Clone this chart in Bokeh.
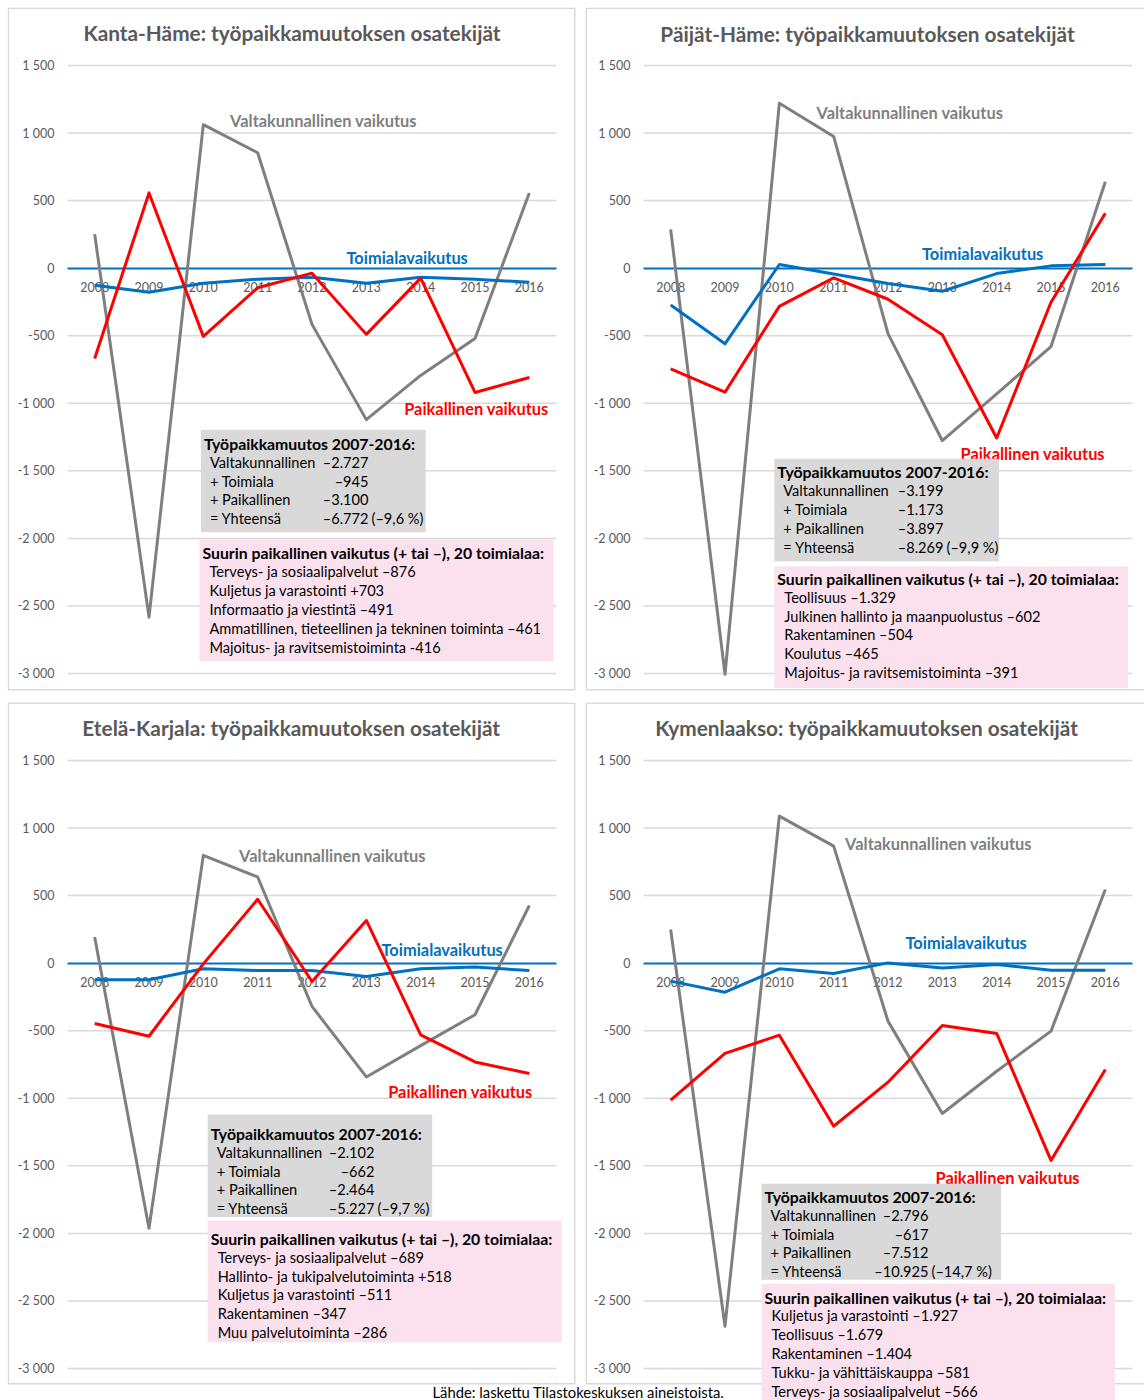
from bokeh.plotting import figure
from bokeh.models import Range1d, FixedTicker, Label, BoxAnnotation, GlobalInlineStyleSheet
from bokeh.layouts import row, column
from bokeh.embed import file_html
from bokeh.resources import INLINE

# ---------------- data ----------------
YEARS = [2008, 2009, 2010, 2011, 2012, 2013, 2014, 2015, 2016]
YEAR_LABELS = ["2008", "2009", "2010", "2011", "2012", "2013", "2014", "2015", "2016"]
Y_TICKS = [-3000, -2500, -2000, -1500, -1000, -500, 0, 500, 1000, 1500]
Y_TICK_LABELS = ["-3 000", "-2 500", "-2 000", "-1 500", "-1 000", "-500", "0", "500", "1 000", "1 500"]

REGIONS = ["Kanta-Häme", "Päijät-Häme", "Etelä-Karjala", "Kymenlaakso"]
TITLE_SUFFIX = ": työpaikkamuutoksen osatekijät"
SERIES_NAMES = ["Valtakunnallinen vaikutus", "Toimialavaikutus", "Paikallinen vaikutus"]

# Valtakunnallinen vaikutus (grey)
KH_VALT = [252, -2583, 1062, 854, -416, -1121, -794, -520, 557]
PH_VALT = [287, -3006, 1220, 975, -485, -1277, -930, -580, 640]
EK_VALT = [193, -1962, 798, 638, -320, -842, -610, -382, 427]
KY_VALT = [249, -2687, 1088, 866, -429, -1113, -800, -503, 545]

# Toimialavaikutus (blue)
KH_TOIM = [-126, -178, -111, -82, -67, -111, -67, -82, -104]
PH_TOIM = [-272, -560, 27, -43, -114, -171, -40, 17, 27]
EK_TOIM = [-123, -123, -42, -54, -54, -99, -42, -29, -54]
KY_TOIM = [-133, -215, -42, -77, 2, -35, -10, -52, -52]

# Paikallinen vaikutus (red)
KH_PAIK = [-668, 557, -505, -145, -37, -490, -74, -920, -809]
PH_PAIK = [-745, -918, -283, -72, -230, -493, -1257, -252, 406]
EK_PAIK = [-447, -541, -5, 473, -136, 316, -531, -731, -817]
KY_PAIK = [-1014, -668, -533, -1207, -881, -461, -520, -1460, -787]

SUMMARY_HEADER = "Työpaikkamuutos 2007-2016:"
SUMMARY_ROWS = ["Valtakunnallinen", "+ Toimiala", "+ Paikallinen", "= Yhteensä"]
KH_SUMMARY = ["–2.727", "–945", "–3.100", "–6.772"]
PH_SUMMARY = ["–3.199", "–1.173", "–3.897", "–8.269"]
EK_SUMMARY = ["–2.102", "–662", "–2.464", "–5.227"]
KY_SUMMARY = ["–2.796", "–617", "–7.512", "–10.925"]
KH_SHARE = "(–9,6 %)"
PH_SHARE = "(–9,9 %)"
EK_SHARE = "(–9,7 %)"
KY_SHARE = "(–14,7 %)"

TOP_HEADER = "Suurin paikallinen vaikutus (+ tai –), 20 toimialaa:"
KH_TOP = ["Terveys- ja sosiaalipalvelut –876", "Kuljetus ja varastointi +703",
          "Informaatio ja viestintä –491", "Ammatillinen, tieteellinen ja tekninen toiminta –461",
          "Majoitus- ja ravitsemistoiminta -416"]
PH_TOP = ["Teollisuus –1.329", "Julkinen hallinto ja maanpuolustus –602",
          "Rakentaminen –504", "Koulutus –465", "Majoitus- ja ravitsemistoiminta –391"]
EK_TOP = ["Terveys- ja sosiaalipalvelut –689", "Hallinto- ja tukipalvelutoiminta +518",
          "Kuljetus ja varastointi –511", "Rakentaminen –347", "Muu palvelutoiminta –286"]
KY_TOP = ["Kuljetus ja varastointi –1.927", "Teollisuus –1.679", "Rakentaminen –1.404",
          "Tukku- ja vähittäiskauppa –581", "Terveys- ja sosiaalipalvelut –566"]

FOOTER = "Lähde: laskettu Tilastokeskuksen aineistoista."

# ---------------- styles / layout ----------------
FONT = "Lato"
C_GRAY = "#7f7f7f"
C_BLUE = "#0070C0"
C_RED = "#FF0000"
C_TEXT = "#595959"
C_GRID = "#d9d9d9"
C_BOXG = "#d9d9d9"
C_BOXP = "#fbe0ee"
FRAME_W = 489
FRAME_H = 608
FRAME_TOP = 58
LINE_STEP = 18.9
TXT = 14.6
HEAD = 15.8
SER = 16.4
TITLE = 20.8
TICK = 12.5

LAYOUTS = [
    dict(fl=60, w=578, h=695, bh=683, gray=(193.4, 422.3, 418.2, 524.7), ghy=435.7, valr=361,
         pink=(192, 532, 546, 653.7), phy=545.3,
         labs=((222.6, 113), (339, 250), (396.7, 401.3)), tx=284.5, ty=25),
    dict(fl=58, w=568, h=695, bh=683, gray=(188.8, 451.3, 413.4, 553.7), ghy=464, valr=358,
         pink=(188.8, 559, 542.6, 680.7), phy=570.7,
         labs=((231, 104.7), (336.5, 245.7), (375, 445.7)), tx=282, ty=26),
    dict(fl=60, w=578, h=698, bh=682, gray=(200.2, 412, 424.7, 514.7), ghy=430.7, valr=367,
         pink=(200.2, 518, 554.2, 639.7), phy=535.7,
         labs=((231.6, 153), (374, 247.3), (380.7, 388.7)), tx=283.7, ty=25.3),
    dict(fl=58, w=568, h=698, bh=682, gray=(176, 481.3, 415.6, 577.3), ghy=493.7, valr=343,
         pink=(176, 581.3, 529.5, 710), phy=594.5,
         labs=((259.6, 140.7), (320, 240.3), (350, 474.7)), tx=281, ty=24.7),
]


def make_panel(region, valt, toim, paik, summary, share, top, L):
    X0, X1 = YEARS[0] - 0.5, YEARS[-1] + 0.5
    Y0, Y1 = Y_TICKS[0], Y_TICKS[-1]

    def xd(px):
        return X0 + (px - L["fl"]) / FRAME_W * (X1 - X0)

    def yd(py):
        return Y1 - (py - FRAME_TOP) / FRAME_H * (Y1 - Y0)

    p = figure(width=L["w"], height=L["h"],
               x_range=Range1d(xd(0), xd(L["w"])), y_range=Range1d(yd(L["h"]), yd(0)),
               output_backend="svg", toolbar_location=None, min_border=0)
    p.outline_line_color = None
    p.border_fill_color = "white"
    p.background_fill_color = "white"
    p.xgrid.visible = False
    p.ygrid.visible = False

    # horizontal gridlines over the plot area
    gt = [t for t in Y_TICKS if t != 0]
    p.segment(x0=[X0] * len(gt), y0=gt, x1=[X1] * len(gt), y1=gt,
              line_color=C_GRID, line_width=1.5)

    # axes
    xa = p.xaxis[0]
    xa.fixed_location = 0
    xa.bounds = (X0, X1)
    xa.ticker = FixedTicker(ticks=YEARS, minor_ticks=[])
    xa.major_label_overrides = {y: l for y, l in zip(YEARS, YEAR_LABELS)}
    xa.axis_line_color = C_BLUE
    xa.axis_line_width = 2
    xa.major_tick_line_color = None
    xa.minor_tick_line_color = None
    xa.major_tick_in = 0
    xa.major_tick_out = 0
    xa.major_label_standoff = 14
    xa.major_label_text_font = FONT
    xa.major_label_text_font_size = f"{TICK}px"
    xa.major_label_text_color = C_TEXT
    xa.level = "underlay"

    ya = p.yaxis[0]
    ya.fixed_location = X0
    ya.bounds = (Y0, Y1)
    ya.ticker = FixedTicker(ticks=Y_TICKS, minor_ticks=[])
    ya.major_label_overrides = {t: l for t, l in zip(Y_TICKS, Y_TICK_LABELS)}
    ya.axis_line_color = None
    ya.major_tick_line_color = None
    ya.minor_tick_line_color = None
    ya.major_tick_in = 0
    ya.major_tick_out = 0
    ya.major_label_standoff = 13
    ya.major_label_text_font = FONT
    ya.major_label_text_font_size = f"{TICK}px"
    ya.major_label_text_color = C_TEXT

    # series
    for vals, col in ((valt, C_GRAY), (toim, C_BLUE), (paik, C_RED)):
        p.line(YEARS, vals, line_color=col, line_width=3, line_join="round")

    def lab(x, y, text, size, color, bold=False, align="left"):
        p.add_layout(Label(x=xd(x), y=yd(y), text=text, text_font=FONT,
                           text_font_size=f"{size}px", text_color=color,
                           text_font_style="bold" if bold else "normal",
                           text_align=align, text_baseline="middle"))

    def box(rect, color, line=None, width=1):
        l, t, r, b = rect
        p.add_layout(BoxAnnotation(left=xd(l), right=xd(r), top=yd(t), bottom=yd(b),
                                   fill_color=color, fill_alpha=1 if color else 0,
                                   line_color=line, line_alpha=1, line_width=width))

    # panel border
    box((0.75, 0.75, 567.25, L["bh"] - 0.75), None, C_GRID, 1.5)

    # title
    lab(L["tx"], L["ty"], region + TITLE_SUFFIX, TITLE, C_TEXT, bold=True, align="center")

    # series labels
    for (lx, ly), name, col in zip(L["labs"], SERIES_NAMES, (C_GRAY, C_BLUE, C_RED)):
        lab(lx, ly, name, SER, col, bold=True)

    # summary box
    gl = L["gray"][0]
    box(L["gray"], C_BOXG)
    lab(gl + 3, L["ghy"], SUMMARY_HEADER, HEAD, "black", bold=True)
    for k, (name, val) in enumerate(zip(SUMMARY_ROWS, summary)):
        yy = L["ghy"] + LINE_STEP * (k + 1)
        lab(gl + 9, yy, name, TXT, "black")
        lab(L["valr"], yy, val, TXT, "black", align="right")
    lab(L["valr"] + 3, L["ghy"] + LINE_STEP * 4, share, TXT, "black")

    # top industries box
    pl = L["pink"][0]
    box(L["pink"], C_BOXP)
    lab(pl + 3, L["phy"], TOP_HEADER, HEAD, "black", bold=True)
    for k, item in enumerate(top):
        lab(pl + 10, L["phy"] + LINE_STEP * (k + 1), item, TXT, "black")
    return p


p1 = make_panel(REGIONS[0], KH_VALT, KH_TOIM, KH_PAIK, KH_SUMMARY, KH_SHARE, KH_TOP, LAYOUTS[0])
p2 = make_panel(REGIONS[1], PH_VALT, PH_TOIM, PH_PAIK, PH_SUMMARY, PH_SHARE, PH_TOP, LAYOUTS[1])
p3 = make_panel(REGIONS[2], EK_VALT, EK_TOIM, EK_PAIK, EK_SUMMARY, EK_SHARE, EK_TOP, LAYOUTS[2])
p4 = make_panel(REGIONS[3], KY_VALT, KY_TOIM, KY_PAIK, KY_SUMMARY, KY_SHARE, KY_TOP, LAYOUTS[3])

foot = figure(width=320, height=20, x_range=Range1d(0, 1), y_range=Range1d(0, 1),
              output_backend="svg", toolbar_location=None, min_border=0,
              x_axis_type=None, y_axis_type=None, margin=(-19, 0, 0, 425))
foot.outline_line_color = None
foot.border_fill_color = None
foot.background_fill_color = None
foot.grid.visible = False
foot.add_layout(Label(x=0, y=0.5, text=FOOTER, text_font=FONT, text_font_size="14.8px",
                      text_color="black", text_baseline="middle"))

layout = column(row(p1, p2), row(p3, p4), foot, margin=(7, 0, 0, 7),
                stylesheets=[GlobalInlineStyleSheet(css="html, body { overflow: hidden; margin: 0; }")])

open("out.html", "w").write(file_html(layout, INLINE))
